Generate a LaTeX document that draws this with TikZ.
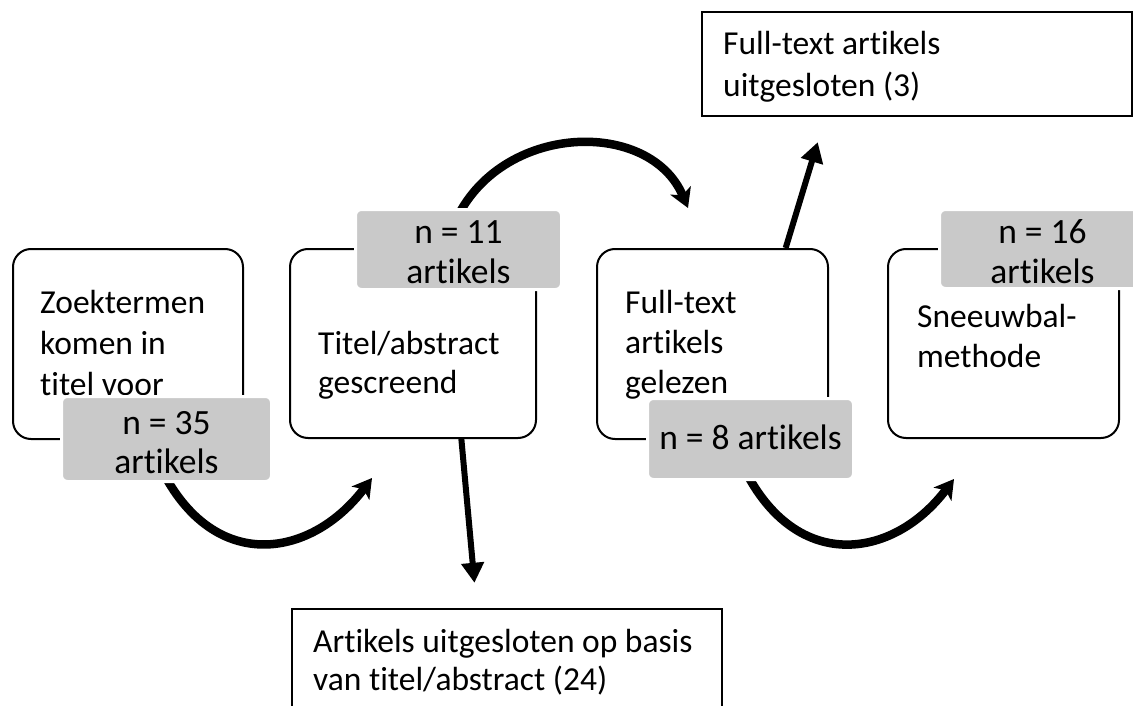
\documentclass[tikz,border=0pt]{standalone}
\usepackage{fontspec}
\setmainfont[Ligatures={NoCommon}]{Carlito}
\usetikzlibrary{arrows.meta,calc}
\definecolor{labelgray}{RGB}{201,201,201}
\begin{document}
\begin{tikzpicture}[x=1pt,y=-1pt,
  stagebox/.style={draw=black, line width=2pt, rounded corners=18pt, inner sep=0pt, fill=white},
  exclbox/.style={draw=black, line width=2.6pt, inner sep=0pt, fill=white},
  countlabel/.style={fill=labelgray, draw=white, line width=3pt, rounded corners=6pt, inner sep=0pt},
  boxtext/.style={anchor=base west, inner sep=0pt, align=left, font=\fontsize{33.5}{40}\selectfont},
  counttext/.style={anchor=base, inner sep=0pt, align=center, font=\fontsize{35.5}{40}\selectfont},
  curvearrow/.style={line width=8.5pt, -{Stealth[length=19pt,width=22pt,inset=5pt]}},
  straightarrow/.style={line width=6pt, -{Triangle[length=20pt,width=22pt]}}
]
\useasboundingbox (0,0) rectangle (1133,706);
\clip (0,0) rectangle (1133,706);

% stage boxes
\node[stagebox, minimum width=230pt, minimum height=190pt] (b1) at (128,344) {};
\node[stagebox, minimum width=246pt, minimum height=189pt] (b2) at (413,343.5) {};
\node[stagebox, minimum width=231pt, minimum height=190pt] (b3) at (712.5,344) {};
\node[stagebox, minimum width=231pt, minimum height=189pt] (b4) at (1003.5,343.5) {};
% exclusion boxes
\node[exclbox, minimum width=430pt, minimum height=104pt] (ex1) at (917,64) {};
\node[exclbox, minimum width=430pt, minimum height=152pt] (ex2) at (507,685) {};

% box texts (anchor = baseline of last line)
\node[boxtext, font=\fontsize{33.5}{41}\selectfont] (t1) at (40,395) {Zoektermen\\komen in\\titel voor};
\node[boxtext, font=\fontsize{33.5}{39}\selectfont] (t2) at (318,393) {Titel/abstract\\gescreend};
\node[boxtext] (t3) at (625,393) {Full-text\\artikels\\gelezen};
\node[boxtext] (t4) at (917,367) {Sneeuwbal-\\methode};
\node[boxtext, font=\fontsize{33.5}{42}\selectfont] (tx1) at (723,97) {Full-text artikels\\uitgesloten (3)};
\node[boxtext, font=\fontsize{33.5}{38}\selectfont] (tx2) at (313,690) {Artikels uitgesloten op basis\\van titel/abstract (24)};

% count label positions
\coordinate (n35c) at (166.5,439);
\coordinate (n11c) at (458.5,249.5);
\coordinate (n8c) at (750.5,439);
\coordinate (n16c) at (1042.5,249);

% arrow end points
\coordinate (c1s) at (158,462);
\coordinate (c1e) at (372,478);
\coordinate (c2s) at (741,462);
\coordinate (c2e) at (954,479);
\coordinate (c3s) at (455,222);
\coordinate (c3e) at (688,208);

% curved arrows
\draw[curvearrow] (c1s) .. controls (210,575) and (310,560) .. (c1e);
\draw[curvearrow] (c2s) .. controls (793,575) and (893,560) .. (c2e);
\draw[curvearrow] (c3s) .. controls (500,122) and (650,118) .. (c3e);

% straight arrows
\draw[straightarrow, shorten >=25pt] ($(b2.south west)!0.695!(b2.south east)$) -- ($(ex2.north west)!0.43!(ex2.north east)$);
\draw[straightarrow, shorten >=26pt] ($(b3.north west)!0.814!(b3.north east)$) -- ($(ex1.south west)!0.288!(ex1.south east)$);

% count labels
\node[countlabel, minimum width=210pt, minimum height=85pt] (n35) at (n35c) {};
\node[countlabel, minimum width=206pt, minimum height=80pt] (n11) at (n11c) {};
\node[countlabel, minimum width=206pt, minimum height=81pt] (n8) at (n8c) {};
\node[countlabel, minimum width=206pt, minimum height=79pt] (n16) at (n16c) {};

\node[counttext, font=\fontsize{35.5}{39}\selectfont] (n35t) at (166.5,473) {n = 35\\artikels};
\node[counttext] (n11t) at (458.5,283) {n = 11\\artikels};
\node[counttext] (n8t) at (750.5,449) {n = 8 artikels};
\node[counttext] (n16t) at (1042.5,283) {n = 16\\artikels};
\end{tikzpicture}
\end{document}
